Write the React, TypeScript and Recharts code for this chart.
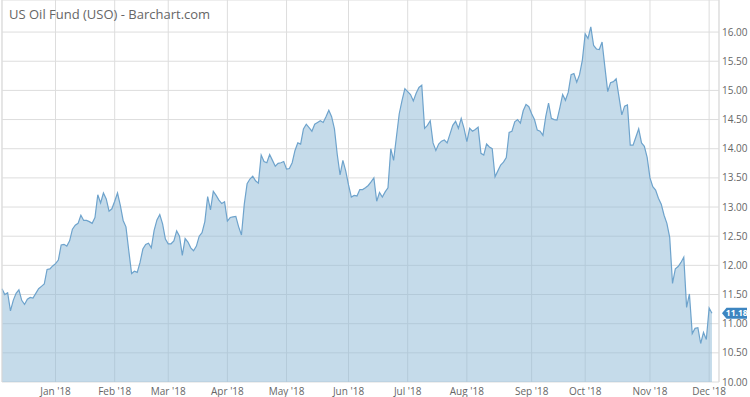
import {
  AreaChart,
  Area,
  XAxis,
  YAxis,
  CartesianGrid,
  ReferenceLine,
} from 'recharts'

// daily closes, one array per month (trading days)
const dec17 = [11.6, 11.5, 11.53, 11.22, 11.4, 11.52, 11.58, 11.4, 11.33, 11.42, 11.45, 11.44, 11.52, 11.6, 11.64, 11.68, 11.93, 11.94, 11.99]
const jan18 = [12.03, 12.09, 12.35, 12.36, 12.33, 12.42, 12.62, 12.69, 12.72, 12.86, 12.77, 12.77, 12.75, 12.72, 12.82, 13.21, 13.07, 13.24, 13.14, 12.93, 12.97]
const feb18 = [13.1, 13.24, 13.03, 12.77, 12.66, 12.25, 11.86, 11.9, 11.88, 12.05, 12.28, 12.36, 12.38, 12.3, 12.6, 12.78, 12.87, 12.71, 12.45]
const mar18 = [12.37, 12.37, 12.42, 12.59, 12.5, 12.17, 12.46, 12.4, 12.3, 12.25, 12.33, 12.5, 12.56, 12.75, 13.18, 12.95, 13.27, 13.2, 13.12, 13.06, 13.09]
const apr18 = [12.76, 12.82, 12.83, 12.84, 12.66, 12.52, 13.05, 13.4, 13.48, 13.53, 13.45, 13.41, 13.89, 13.78, 13.76, 13.9, 13.8, 13.7, 13.75, 13.76, 13.78]
const may18 = [13.65, 13.66, 13.76, 13.97, 14.1, 14.08, 14.34, 14.42, 14.36, 14.3, 14.42, 14.45, 14.48, 14.45, 14.55, 14.66, 14.55, 14.34, 13.9, 13.55, 13.8, 13.62]
const jun18 = [13.38, 13.17, 13.2, 13.19, 13.3, 13.3, 13.33, 13.37, 13.43, 13.5, 13.1, 13.25, 13.17, 13.26, 13.33, 14.0, 13.8, 14.2, 14.6, 14.83, 15.03]
const jul18 = [14.98, 14.93, 14.82, 14.95, 15.05, 15.09, 14.35, 14.4, 14.48, 14.1, 13.97, 14.08, 14.13, 14.15, 14.1, 14.25, 14.4, 14.47, 14.35, 14.52, 14.35]
const aug18 = [14.12, 14.35, 14.3, 14.33, 14.37, 13.92, 13.89, 14.08, 14.03, 14.0, 13.52, 13.62, 13.72, 13.77, 13.85, 14.28, 14.3, 14.46, 14.5, 14.44, 14.65, 14.76, 14.72]
const sep18 = [14.6, 14.5, 14.32, 14.3, 14.23, 14.55, 14.78, 14.52, 14.5, 14.49, 14.7, 14.93, 14.83, 14.97, 15.27, 15.29, 15.14, 15.27, 15.52]
const oct18 = [15.97, 15.89, 16.09, 15.77, 15.71, 15.7, 15.83, 15.4, 14.98, 15.13, 15.15, 15.2, 14.89, 14.58, 14.73, 14.75, 14.06, 14.06, 14.2, 14.34, 14.1, 14.04, 13.85]
const nov18 = [13.5, 13.35, 13.29, 13.15, 13.05, 12.86, 12.72, 12.48, 11.69, 11.94, 11.98, 12.05, 12.14, 11.28, 11.51, 10.83, 10.92, 10.93, 10.66, 10.85, 10.73]
const dec18 = [11.27, 11.18]

const months = [dec17, jan18, feb18, mar18, apr18, may18, jun18, jul18, aug18, sep18, oct18, nov18, dec18]
const monthLabels = ['', "Jan '18", "Feb '18", "Mar '18", "Apr '18", "May '18", "Jun '18", "Jul '18", "Aug '18", "Sep '18", "Oct '18", "Nov '18", "Dec '18"]
const yTicks = [10, 10.5, 11, 11.5, 12, 12.5, 13, 13.5, 14, 14.5, 15, 15.5, 16]

const data: { i: number; close: number }[] = []
const monthStarts: number[] = []
const tickNames: Record<number, string> = {}
months.forEach((m, k) => {
  if (k > 0) {
    monthStarts.push(data.length)
    tickNames[data.length] = monthLabels[k]
  }
  m.forEach((v) => data.push({ i: data.length, close: v }))
})
const last = data[data.length - 1].close
const xMax = 254.5

// last price badge on the right axis
const PriceTag = (props: any) => {
  const { viewBox } = props
  const x = viewBox.x + viewBox.width
  const y = viewBox.y
  return (
    <g>
      <path
        d={`M${x + 3},${y} L${x + 7.5},${y - 5.5} L${x + 28},${y - 5.5} L${x + 28},${y + 5.5} L${x + 7.5},${y + 5.5} Z`}
        fill="#3d85c0"
      />
      <text
        x={x + 17.8}
        y={y + 3}
        textAnchor="middle"
        fontSize={8.5}
        fontWeight="bold"
        fill="#fff"
        fontFamily="'Open Sans', sans-serif"
      >
        {last.toFixed(2)}
      </text>
    </g>
  )
}

export default function App() {
  return (
    <div
      style={{
        position: 'absolute',
        left: 0,
        top: 0,
        width: 750,
        height: 397,
        background: '#fff',
        fontFamily: "'Open Sans', sans-serif",
      }}
    >
      <AreaChart
        width={750}
        height={397}
        data={data}
        margin={{ top: 0, right: 0, left: 2, bottom: 0 }}
      >
        <CartesianGrid stroke="#dddddd" strokeWidth={1} />
        <XAxis
          dataKey="i"
          type="number"
          domain={[0, xMax]}
          ticks={monthStarts}
          tickFormatter={(v: number) => tickNames[v] ?? ''}
          axisLine={false}
          tickLine={false}
          tickSize={0}
          tickMargin={6}
          height={15}
          interval={0}
          tick={{ fontSize: 10, fill: '#666' }}
        />
        <YAxis
          orientation="right"
          domain={[10, 16.55]}
          ticks={yTicks}
          tickFormatter={(v: number) => v.toFixed(2)}
          axisLine={false}
          tickLine={false}
          tickSize={0}
          tickMargin={3}
          width={31}
          interval={0}
          tick={{ fontSize: 10, fill: '#666', textAnchor: 'start' }}
        />
        <ReferenceLine x={0} stroke="#dddddd" />
        <ReferenceLine x={xMax} stroke="#dddddd" />
        <Area
          type="linear"
          dataKey="close"
          stroke="#6ea3cc"
          strokeWidth={1.2}
          fill="#8cb8d6"
          fillOpacity={0.5}
          dot={false}
          activeDot={false}
          isAnimationActive={false}
        />
        <ReferenceLine y={last} stroke="none" label={<PriceTag />} />
      </AreaChart>
      <div
        style={{
          position: 'absolute',
          left: 9,
          top: 8,
          fontSize: 13,
          lineHeight: '13px',
          color: '#666',
          pointerEvents: 'none',
          whiteSpace: 'nowrap',
        }}
      >
        US Oil Fund (USO) - Barchart.com
      </div>
    </div>
  )
}
